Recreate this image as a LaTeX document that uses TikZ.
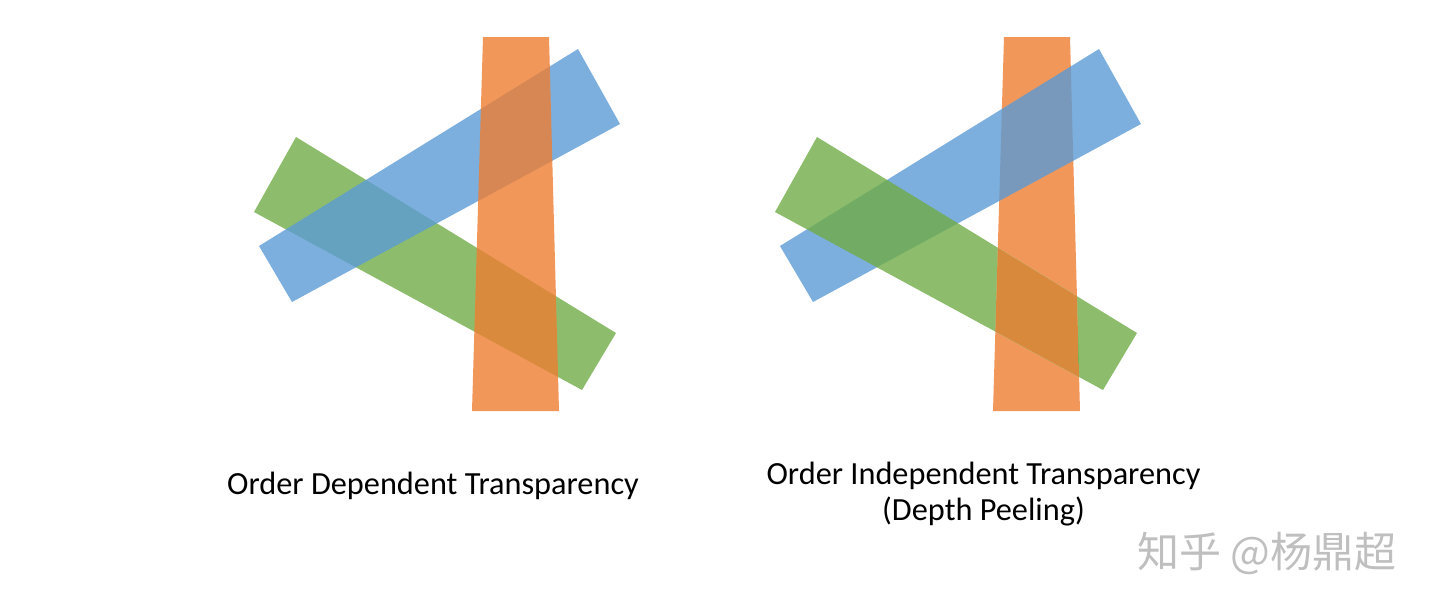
\documentclass[tikz,border=0pt]{standalone}
\usepackage{fontspec}
\setmainfont{Carlito}
\newfontfamily\cjk{Noto Sans CJK SC}
\definecolor{barorange}{HTML}{ED7D31}
\definecolor{barblue}{HTML}{5B9BD5}
\definecolor{bargreen}{HTML}{70AD47}
\begin{document}
\begin{tikzpicture}[x=1pt,y=-1pt]
\tikzstyle{every node}+=[inner sep=0pt]
\tikzstyle{bar}=[fill opacity=0.8]
\tikzstyle{caption}=[anchor=base,font=\fontsize{32.3}{40}\selectfont]
\useasboundingbox (0,0) rectangle (1440,611);
% left: green, then blue, then orange on top
\fill [bargreen,bar] (296,137) -- (616,333) -- (582,390) -- (254,212) -- cycle;
\fill [barblue,bar] (578,49) -- (620,124) -- (292,302) -- (259,246) -- cycle;
\fill [barorange,bar] (483,37) -- (549,37) -- (559,411) -- (472,411) -- cycle;
% right: each pair in its own order
\begin{scope}[xshift=521pt]
\fill [barorange,bar] (483,37) -- (549,37) -- (559,411) -- (472,411) -- cycle;
\fill [barblue,bar] (578,49) -- (620,124) -- (292,302) -- (259,246) -- cycle;
\fill [bargreen,bar] (296,137) -- (616,333) -- (582,390) -- (254,212) -- cycle;
\begin{scope}
\clip (296,137) -- (616,333) -- (582,390) -- (254,212) -- cycle;
\clip (483,37) -- (549,37) -- (559,411) -- (472,411) -- cycle;
\fill [white] (483,37) -- (549,37) -- (559,411) -- (472,411) -- cycle;
\fill [bargreen,bar] (296,137) -- (616,333) -- (582,390) -- (254,212) -- cycle;
\fill [barorange,bar] (483,37) -- (549,37) -- (559,411) -- (472,411) -- cycle;
\end{scope}
\end{scope}
\node (odt) at (433,494) [caption] {Order Dependent Transparency};
\node (oit) at (983.5,484) [caption] {Order Independent Transparency};
\node (peel) at (983.5,520) [caption] {(Depth Peeling)};
\node (mark) at (1267,553) [font=\cjk\fontsize{42}{48}\selectfont,text=black!25] {知乎 @杨鼎超};
\end{tikzpicture}
\end{document}
